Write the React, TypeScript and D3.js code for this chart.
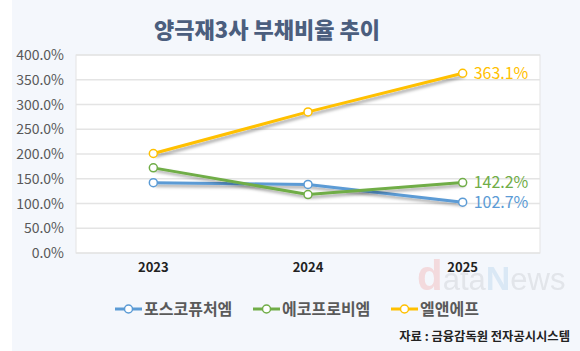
import * as d3 from 'd3';
import { useEffect, useRef } from 'react';

const years = ['2023', '2024', '2025'];
const posco = [142.0, 138.5, 102.7];
const ecopro = [172.0, 118.0, 142.2];
const lnf = [201.0, 285.0, 363.1];
const yTicks = [0, 50, 100, 150, 200, 250, 300, 350, 400];

const series = [
  { name: '포스코퓨처엠', values: posco, color: '#5b9bd5' },
  { name: '에코프로비엠', values: ecopro, color: '#70ad47' },
  { name: '엘앤에프', values: lnf, color: '#ffc000' },
];

const font = "'Noto Sans CJK KR', 'Noto Sans', sans-serif";

export default function App() {
  const ref = useRef<SVGSVGElement | null>(null);

  useEffect(() => {
    if (!ref.current) return;
    const svg = d3.select(ref.current);
    svg.selectAll('*').remove();

    const width = 580;
    const height = 351;
    const left = 76, right = 540, top = 55, bottom = 253;

    const defs = svg.append('defs');
    const f = defs.append('filter').attr('id', 'shadow')
      .attr('x', '-10%').attr('y', '-50%').attr('width', '120%').attr('height', '200%');
    f.append('feDropShadow').attr('dx', 2).attr('dy', 2.5)
      .attr('stdDeviation', 1.5).attr('flood-color', '#000').attr('flood-opacity', 0.35);

    svg.append('rect').attr('width', width).attr('height', height).attr('fill', '#fff');
    svg.append('rect').attr('x', 12).attr('width', width - 12).attr('height', height).attr('fill', '#f4f7fc');

    svg.append('text')
      .attr('x', 267).attr('y', 38)
      .attr('text-anchor', 'middle')
      .style('font-family', font).style('font-size', '22px').style('font-weight', 900)
      .attr('fill', '#4b5e7e')
      .text('양극재3사 부채비율 추이');

    const x = d3.scalePoint<string>().domain(years).range([left, right]).padding(0.5);
    const y = d3.scaleLinear().domain([0, 400]).range([bottom, top]);

    svg.append('rect')
      .attr('x', left).attr('y', top).attr('width', right - left).attr('height', bottom - top)
      .attr('fill', '#fff').attr('stroke', '#e3e3e3').attr('stroke-width', 1);

    // grid + y labels
    yTicks.forEach(t => {
      svg.append('line')
        .attr('x1', left).attr('x2', right).attr('y1', y(t)).attr('y2', y(t))
        .attr('stroke', '#e4e4e4').attr('stroke-width', 1.5);
      svg.append('text')
        .attr('x', 64).attr('y', y(t)).attr('dy', '0.36em')
        .attr('text-anchor', 'end')
        .style('font-family', font).style('font-size', '14px')
        .attr('fill', '#595959')
        .text(`${t.toFixed(1)}%`);
    });

    // watermark
    const wm = svg.append('text').attr('x', 417).attr('y', 290)
      .style('font-family', "'Liberation Sans', Arial, sans-serif").attr('opacity', 0.85);
    wm.append('tspan').text('d').attr('fill', '#f3d5d8').style('font-size', '42px').style('font-weight', 700);
    wm.append('tspan').text('ata').attr('fill', '#dfe2e7').style('font-size', '31px');
    wm.append('tspan').text('N').attr('fill', '#d6e6f4').style('font-size', '34px').style('font-weight', 700);
    wm.append('tspan').text('ews').attr('fill', '#dfe2e7').style('font-size', '31px');

    // x labels
    years.forEach(yr => {
      svg.append('text')
        .attr('x', x(yr)!).attr('y', 272)
        .attr('text-anchor', 'middle')
        .style('font-family', font).style('font-size', '13px').style('font-weight', 600)
        .attr('fill', '#222')
        .text(yr);
    });

    const line = d3.line<number>()
      .x((_, i) => x(years[i])!)
      .y(d => y(d));

    series.forEach(s => {
      svg.append('path')
        .datum(s.values)
        .attr('d', line)
        .attr('fill', 'none')
        .attr('stroke', s.color)
        .attr('stroke-width', 3)
        .attr('filter', 'url(#shadow)');
    });
    series.forEach(s => {
      s.values.forEach((v, i) => {
        svg.append('circle')
          .attr('cx', x(years[i])!).attr('cy', y(v)).attr('r', 4)
          .attr('fill', '#fff').attr('stroke', s.color).attr('stroke-width', 1.5);
      });
      const last = s.values[s.values.length - 1];
      svg.append('text')
        .attr('x', x(years[2])! + 11).attr('y', y(last)).attr('dy', '0.35em')
        .style('font-family', font).style('font-size', '16px')
        .attr('fill', s.color)
        .text(`${last.toFixed(1)}%`);
    });

    // legend
    const legendX = [115, 253, 391];
    series.forEach((s, i) => {
      const lx = legendX[i];
      const ly = 309;
      svg.append('line')
        .attr('x1', lx).attr('x2', lx + 27).attr('y1', ly).attr('y2', ly)
        .attr('stroke', s.color).attr('stroke-width', 3);
      svg.append('circle')
        .attr('cx', lx + 13.5).attr('cy', ly).attr('r', 4)
        .attr('fill', '#fff').attr('stroke', s.color).attr('stroke-width', 1.5);
      svg.append('text')
        .attr('x', lx + 29).attr('y', ly).attr('dy', '0.36em')
        .style('font-family', font).style('font-size', '16px').style('font-weight', 700)
        .attr('fill', '#5a5a5a')
        .text(s.name);
    });

    svg.append('text')
      .attr('x', 570).attr('y', 341)
      .attr('text-anchor', 'end')
      .style('font-family', font).style('font-size', '12.3px').style('font-weight', 700)
      .attr('fill', '#222')
      .text('자료 : 금융감독원 전자공시시스템');
  }, []);

  return (
    <div style={{ position: 'absolute', left: 0, top: 0 }}>
      <svg ref={ref} width={580} height={351} style={{ display: 'block' }} />
    </div>
  );
}
